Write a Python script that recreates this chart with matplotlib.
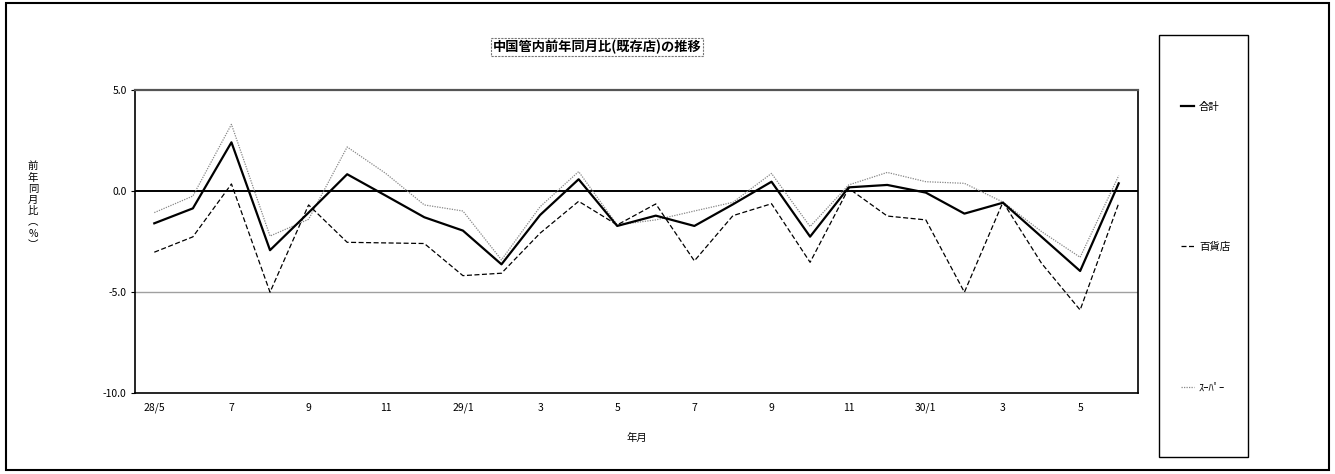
import matplotlib.pyplot as plt
from matplotlib.patches import Rectangle

plt.rcParams['font.family'] = ['Noto Sans CJK JP', 'DejaVu Sans']

months = ["28/5", "28/6", "28/7", "28/8", "28/9", "28/10", "28/11", "28/12",
          "29/1", "29/2", "29/3", "29/4", "29/5", "29/6", "29/7", "29/8",
          "29/9", "29/10", "29/11", "29/12", "30/1", "30/2", "30/3", "30/4",
          "30/5", "30/6"]
tick_labels = ["28/5", "", "7", "", "9", "", "11", "", "29/1", "", "3", "",
               "5", "", "7", "", "9", "", "11", "", "30/1", "", "3", "", "5", ""]

total = [-1.60, -0.86, 2.41, -2.93, -1.07, 0.83, -0.23, -1.30, -1.96, -3.63,
         -1.19, 0.58, -1.73, -1.22, -1.73, -0.66, 0.46, -2.26, 0.18, 0.30,
         -0.08, -1.12, -0.58, -2.27, -3.96, 0.38]
dept = [-3.03, -2.27, 0.35, -5.01, -0.69, -2.54, -2.57, -2.60, -4.19, -4.07,
        -2.09, -0.51, -1.68, -0.64, -3.46, -1.22, -0.63, -3.53, 0.13, -1.24,
        -1.43, -5.01, -0.55, -3.58, -5.89, -0.61]
supermarket = [-1.07, -0.25, 3.30, -2.23, -1.40, 2.18, 0.87, -0.69, -0.99, -3.41,
               -0.78, 0.96, -1.68, -1.43, -0.99, -0.56, 0.87, -1.76, 0.30, 0.92,
               0.46, 0.38, -0.55, -2.01, -3.28, 0.76]

W, H = 1335, 474
fig = plt.figure(figsize=(W / 100, H / 100), dpi=100)
ax = fig.add_axes([135 / W, 1 - 393 / H, (1138 - 135) / W, (393 - 90) / H])

x = list(range(len(months)))
ax.axhline(0, color='black', lw=1.4, zorder=1)
ax.axhline(-5, color='#a0a0a0', lw=1.0, zorder=1)

ax.plot(x, total, color='black', lw=1.6, label='合計', zorder=4)
ax.plot(x, dept, color='black', lw=0.9, linestyle=(0, (4, 2)), label='百貨店', zorder=3)
ax.plot(x, supermarket, color='#888888', lw=0.9, linestyle=(0, (1, 1)), label='ｽｰﾊﾟｰ', zorder=2)

ax.set_xlim(-0.5, len(months) - 0.5)
ax.set_ylim(-10, 5)
ax.set_xticks(x)
ax.set_xticklabels(tick_labels, fontsize=7.5)
ax.set_yticks([5, 0, -5, -10])
ax.set_yticklabels(["5.0", "0.0", "-5.0", "-10.0"], fontsize=7.5)
ax.tick_params(axis='x', length=0, pad=7)
ax.tick_params(axis='y', length=3, width=0.8, pad=3)

for side in ['left', 'bottom', 'right']:
    ax.spines[side].set_color('black')
    ax.spines[side].set_linewidth(1.2)
ax.spines['top'].set_color('#555555')
ax.spines['top'].set_linewidth(1.6)

ax.set_xlabel("年月", fontsize=7.5, labelpad=14)

ylab = "\n".join(["前", "年", "同", "月", "比", "︵", "%", "︶"])
fig.text(33 / W, 1 - 205.5 / H, ylab, fontsize=7.5, ha='center', va='center',
         linespacing=1.15)

fig.text(597 / W, 1 - 47 / H, "中国管内前年同月比(既存店)の推移", fontsize=9.5,
         fontweight='bold', ha='center', va='center',
         bbox=dict(boxstyle='square,pad=0.15', fc='white', ec='#777777',
                   lw=0.8, linestyle=(0, (2, 1))))

# legend box and entries
fig.patches.append(Rectangle((1159 / W, 1 - 457 / H), (1248 - 1159) / W, (457 - 35) / H,
                             transform=fig.transFigure, fill=False, ec='black', lw=1.0))
leg = fig.legend(loc='center left', bbox_to_anchor=(1176 / W, 1 - 247 / H),
                 frameon=False, fontsize=7.5, borderpad=0, labelspacing=12.5,
                 handlelength=1.2, handletextpad=0.5)

fig.patches.append(Rectangle((6 / W, 1 - 470 / H), (1329 - 6) / W, (470 - 3) / H,
                             transform=fig.transFigure, fill=False, ec='black', lw=1.5))

fig.savefig("out.png", dpi=100)
